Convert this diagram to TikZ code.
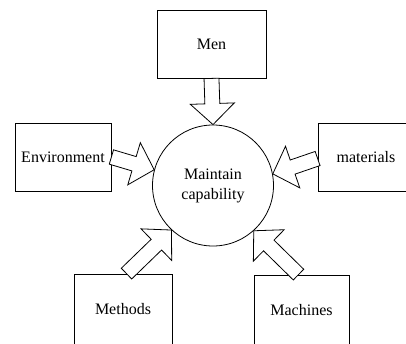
\documentclass[tikz,border=0pt]{standalone}
\usepackage{fontspec}
\setmainfont{Liberation Serif}
\usetikzlibrary{calc}

% hollow block arrow: #1 tail, #2 tip
\newcommand{\fatarrow}[2]{%
  \coordinate (hb) at ($(#2)!15.75pt!(#1)$);
  \draw[fat] ($(#1)!5.6pt!90:(#2)$) -- ($(hb)!5.6pt!-90:(#1)$)
    -- ($(hb)!16.5pt!-90:(#1)$) -- (#2) -- ($(hb)!16.5pt!90:(#1)$)
    -- ($(hb)!5.6pt!90:(#1)$) -- ($(#1)!5.6pt!-90:(#2)$) -- cycle;
}

\begin{document}
\begin{tikzpicture}[x=0.75pt, y=-0.75pt, line width=0.6pt,
    font=\fontsize{12}{15}\selectfont,
    box/.style={draw, minimum height=51pt, inner sep=2pt},
    fat/.style={draw, fill=white, line join=miter}]
    \useasboundingbox (0,0) rectangle (406,343);
    \clip (0,0) rectangle (406,343);

    % 1. 中心圆
    \node[circle, draw, minimum size=90.75pt, align=center] (cap) at (213,185.5) {Maintain\\capability};

    % 2. 五个方框
    \node[box, minimum width=81.75pt] (men) at (211.5,44) {Men};
    \node[box, minimum width=72pt] (env) at (63,157) {Environment};
    \node[box, minimum width=72pt] (mat) at (366,157) {materials};
    \node[box, minimum width=73.5pt, minimum height=52.5pt] (meth) at (123,309) {Methods};
    \node[box, minimum width=71.25pt, minimum height=52.5pt] (mach) at (301.5,310) {Machines};

    % 3. 箭头起点
    \coordinate (menT) at (men.south);
    \coordinate (envT) at (env.east);
    \coordinate (matT) at ($(mat.west)+(0,1.5)$);
    \coordinate (methT) at ($(meth.north)+(3.5,0)$);
    \coordinate (machT) at ($(mach.north)+(-3,0)$);

    % 4. 空心箭头
    \fatarrow{menT}{cap.90}
    \fatarrow{envT}{cap.165}
    \fatarrow{matT}{cap.11}
    \fatarrow{methT}{cap.227}
    \fatarrow{machT}{cap.312}
\end{tikzpicture}
\end{document}
